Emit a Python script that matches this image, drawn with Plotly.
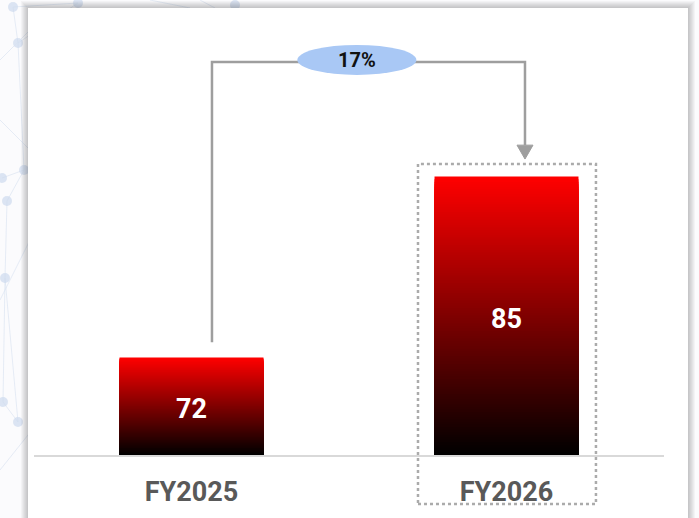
import plotly.graph_objects as go

# ---- data ----
categories = ["FY2025", "FY2026"]
values = [72, 85]
growth_label = "17%"
y_min = 65

# ---- layout geometry (pixels) ----
W, H = 699, 518
ML, MR, MT, MB = 34, 35, 20, 63
PW = W - ML - MR
PH = H - MT - MB
y_max = 96.25


def px_x(px):
    return (px - ML) / PW


def px_y(py):
    return (H - MB - py) / PH


fig = go.Figure()

# gradient bars: overlaid bars of decreasing height, red at top -> black at bottom
N = 110
for k in range(N):
    frac_top = (N - k) / N
    f = (N - k - 0.5) / N
    col = "rgb(%d,0,0)" % round(255 * f)
    fig.add_trace(go.Bar(
        x=categories,
        y=[y_min + (v - y_min) * frac_top for v in values],
        marker=dict(color=col, line=dict(width=0)),
        width=0.457,
        hoverinfo="skip",
        showlegend=False,
    ))

shapes = []
# background decoration (faint network)
dec_col = "rgba(205,218,238,0.7)"
nodes = [(13, 7), (18, 43), (78, 3), (2, 178), (24, 170), (7, 201), (5, 278), (3, 402), (18, 422), (235, 5)]
links = [(0, 1), (1, 4), (4, 3), (4, 5), (5, 6), (6, 7), (6, 8), (7, 8), (1, 2), (0, 2)]
for a, b in links:
    (x0, y0), (x1, y1) = nodes[a], nodes[b]
    shapes.append(dict(type="line", xref="paper", yref="paper", x0=px_x(x0), y0=px_y(y0),
                       x1=px_x(x1), y1=px_y(y1), line=dict(color="rgba(215,225,240,0.6)", width=1), layer="below"))
for (cx, cy) in nodes:
    r = 5
    shapes.append(dict(type="circle", xref="paper", yref="paper", x0=px_x(cx - r), x1=px_x(cx + r),
                       y0=px_y(cy - r), y1=px_y(cy + r), fillcolor=dec_col, line=dict(width=0), layer="below"))
for (x0, y0, x1, y1) in [(0, 60, 40, 20), (0, 300, 30, 240), (0, 470, 40, 420), (150, 0, 190, 8), (200, 0, 215, 8), (0, 120, 30, 150)]:
    shapes.append(dict(type="line", xref="paper", yref="paper", x0=px_x(x0), y0=px_y(y0),
                       x1=px_x(x1), y1=px_y(y1), line=dict(color="rgba(215,225,240,0.6)", width=1), layer="below"))

# card shadow + card
for k in range(7, 0, -1):
    shapes.append(dict(type="rect", xref="paper", yref="paper",
                       x0=px_x(28 - k), x1=px_x(688 + k), y0=px_y(540), y1=px_y(8 - k),
                       fillcolor="rgba(0,0,0,0.03)", line=dict(width=0), layer="below"))
shapes.append(dict(type="rect", xref="paper", yref="paper",
                   x0=px_x(28), x1=px_x(688), y0=px_y(540), y1=px_y(8),
                   fillcolor="white", line=dict(width=0), layer="below"))

# dotted highlight around FY2026
shapes.append(dict(type="rect", xref="x", yref="paper", x0=0.719, x1=1.284,
                   y0=px_y(504), y1=px_y(164), line=dict(color="#ababab", width=2.5, dash="dot"),
                   fillcolor="rgba(0,0,0,0)"))

# connector
conn_col = "#9e9e9e"
x_left, x_right = 0.065, 1.0587
y_top = 93.23
y_low = values[0] + 1.1
y_tip = values[1] + 1.26
head_h = 1.0
head_w = 0.0254
shapes.append(dict(type="path",
                   path=f"M {x_left},{y_low} L {x_left},{y_top} L {x_right},{y_top} L {x_right},{y_tip + head_h}",
                   line=dict(color=conn_col, width=2.5)))
shapes.append(dict(type="path",
                   path=f"M {x_right - head_w},{y_tip + head_h} L {x_right + head_w},{y_tip + head_h} L {x_right},{y_tip} Z",
                   fillcolor=conn_col, line=dict(color=conn_col, width=1)))
# ellipse label background
shapes.append(dict(type="circle", xref="x", yref="y", x0=0.336, x1=0.714, y0=92.3, y1=94.46,
                   fillcolor="#a9c8f5", line=dict(width=0)))

annotations = [
    dict(x=0.525, y=93.38, xref="x", yref="y", text="<b>" + growth_label + "</b>", showarrow=False,
         font=dict(family="Roboto", size=20, color="#111111")),
]
for c, v in zip(categories, values):
    annotations.append(dict(x=c, y=(y_min + v) / 2, xref="x", yref="y", text="<b>%d</b>" % v,
                            showarrow=False, yshift=-3,
                            font=dict(family="Roboto", size=27, color="white")))

fig.update_layout(
    width=W, height=H,
    margin=dict(l=ML, r=MR, t=MT, b=MB, pad=0),
    paper_bgcolor="#fbfbfd",
    plot_bgcolor="rgba(0,0,0,0)",
    barmode="overlay",
    showlegend=False,
    shapes=shapes,
    annotations=annotations,
    xaxis=dict(range=[-0.5, 1.5], showgrid=False, zeroline=False, showline=True,
               linecolor="#d9d9d9", linewidth=2, ticks="", automargin=False,
               tickfont=dict(family="Roboto", size=27, color="#595959", weight="bold"),
               ticklabelstandoff=12),
    yaxis=dict(range=[y_min, y_max], showgrid=False, zeroline=False, showline=False,
               showticklabels=False, ticks="", automargin=False),
)

fig.write_html("out.html", config={"displayModeBar": False},
               post_script="document.body.style.margin='0';")
